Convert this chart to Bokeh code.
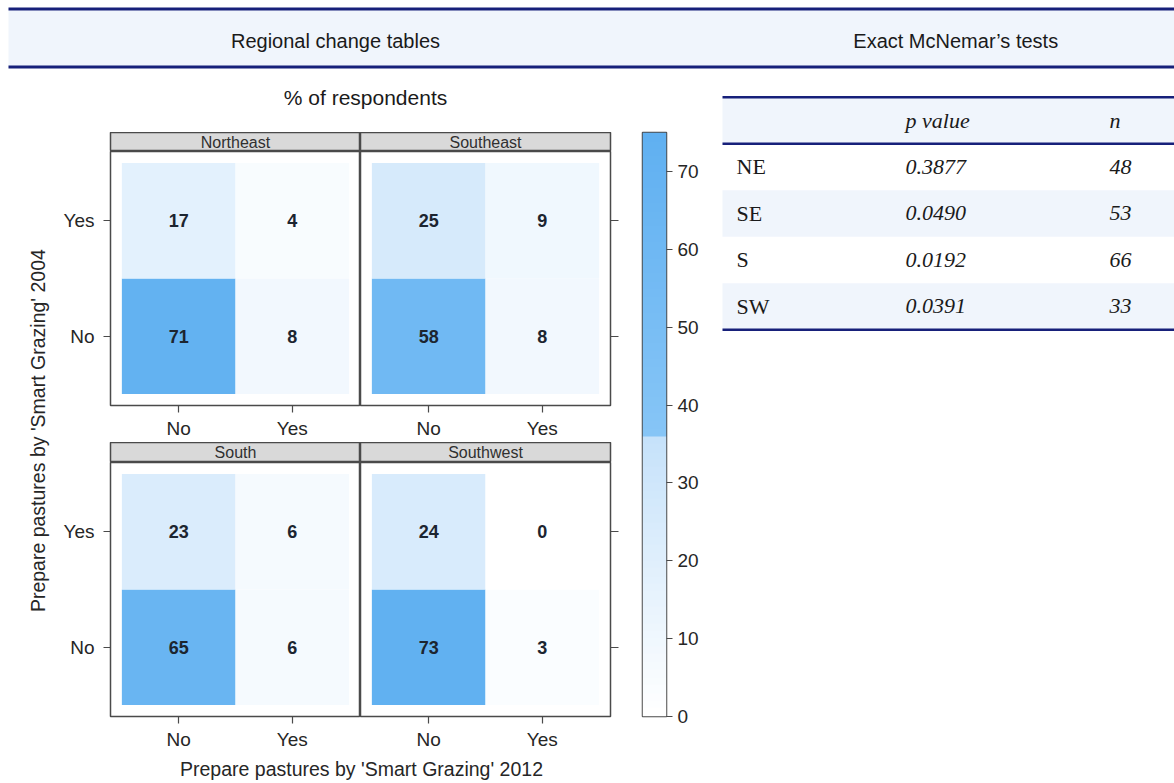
import numpy as np
from bokeh.plotting import figure
from bokeh.models import Range1d, FactorRange, FixedTicker, LinearColorMapper, ColumnDataSource
from bokeh.layouts import row, column
from bokeh.embed import file_html
from bokeh.resources import INLINE
from bokeh.core.properties import value

# ---------------- data ----------------
regions = ["Northeast", "Southeast", "South", "Southwest"]
region_codes = ["NE", "SE", "S", "SW"]
answers = ["No", "Yes"]                 # 2012 answer (x) and 2004 answer (y)
pct_2004no_2012no = [71, 58, 65, 73]
pct_2004no_2012yes = [8, 8, 6, 3]
pct_2004yes_2012no = [17, 25, 23, 24]
pct_2004yes_2012yes = [4, 9, 6, 0]
p_values = ["0.3877", "0.0490", "0.0192", "0.0391"]
n_values = ["48", "53", "66", "33"]
colorbar_ticks = [0, 10, 20, 30, 40, 50, 60, 70]
colorbar_max = 75

# ---------------- styles ----------------
SANS = "Liberation Sans"
SERIF = "Liberation Serif"
NAVY = "#17207a"
BAND = "#f0f5fc"
FRAME = "#4a4a4a"
TXT = "#262626"


def ramp(c0, c1, n):
    a = np.array([int(c0[i:i + 2], 16) for i in (1, 3, 5)], float)
    b = np.array([int(c1[i:i + 2], 16) for i in (1, 3, 5)], float)
    out = []
    for t in np.linspace(0, 1, n):
        c = np.round(a + (b - a) * t).astype(int)
        out.append("#%02x%02x%02x" % tuple(c))
    return out


palette = ramp("#ffffff", "#c6e2fa", 36) + ramp("#86c5f6", "#60b0f1", 39)
mapper = LinearColorMapper(palette=palette, low=0, high=colorbar_max)


def base_fig(**kw):
    f = figure(output_backend="svg", toolbar_location=None, **kw)
    f.grid.visible = False
    return f


def pixel_fig(w, h, **kw):
    return base_fig(width=w, height=h, x_range=Range1d(0, w), y_range=Range1d(h, 0),
                    min_border_left=0, min_border_right=0, min_border_top=0, min_border_bottom=0,
                    x_axis_location=None, y_axis_location=None, outline_line_color=None, **kw)


# ---------------- header ----------------
W = 1174
header = pixel_fig(W, 70)
header.quad(left=[8], right=[W], top=[8], bottom=[67], fill_color=BAND, line_color=None)
header.segment(x0=[8, 8], x1=[W, W], y0=[8.5, 66.5], y1=[8.5, 66.5], line_color=NAVY, line_width=3)
header.text(x=[335, 958], y=[40, 40], text=["Regional change tables", "Exact McNemar\u2019s  tests"],
            text_align="center", text_baseline="middle", text_font=value(SANS),
            text_font_size="20px", text_color="#1a1a1a")

BODY_H = 713

# ---------------- left: y title ----------------
ylab = pixel_fig(50, BODY_H)
ylab.text(x=[37], y=[364], text=["Prepare pastures by 'Smart Grazing' 2004"], angle=np.pi / 2,
          text_align="center", text_baseline="middle", text_font=value(SANS),
          text_font_size="19.5px", text_color=TXT)

# ---------------- titles ----------------
ttl = pixel_fig(578, 62)
ttl.text(x=[315], y=[27], text=["% of respondents"], text_align="center", text_baseline="middle",
         text_font=value(SANS), text_font_size="21px", text_color="#1a1a1a")

xttl = pixel_fig(578, 30)
xttl.text(x=[311], y=[15], text=["Prepare pastures by 'Smart Grazing' 2012"], text_align="center",
          text_baseline="middle", text_font=value(SANS), text_font_size="19.5px", text_color=TXT)


def strip(name, width, left, right, height):
    s = base_fig(width=width, height=height, x_range=Range1d(0, 1), y_range=Range1d(0, 1),
                 min_border_left=left, min_border_right=right, min_border_top=0, min_border_bottom=0,
                 x_axis_location=None, y_axis_location=None,
                 background_fill_color="#d9d9d9", outline_line_color=FRAME, outline_line_width=1.5)
    s.text(x=[0.5], y=[0.5], text=[name], text_align="center", text_baseline="middle",
           text_font=value(SANS), text_font_size="16px", text_color="#303030")
    return s


def style_axis(ax):
    ax.axis_line_color = None
    ax.major_tick_line_color = FRAME
    ax.major_tick_line_width = 1.2
    ax.major_tick_in = 0
    ax.minor_tick_line_color = None
    ax.major_label_text_font = SANS
    ax.major_label_text_font_size = "19px"
    ax.major_label_text_color = TXT


def panel(i, side, width, left, right, height, bottom):
    p = base_fig(width=width, height=height,
                 x_range=FactorRange(factors=answers, range_padding=0.1, range_padding_units="absolute"),
                 y_range=FactorRange(factors=answers, range_padding=0.1, range_padding_units="absolute"),
                 min_border_left=left, min_border_right=right, min_border_top=0, min_border_bottom=bottom,
                 x_axis_location="below", y_axis_location=side,
                 outline_line_color=FRAME, outline_line_width=1.5)
    xs = ["No", "Yes", "No", "Yes"]
    ys = ["No", "No", "Yes", "Yes"]
    vals = [pct_2004no_2012no[i], pct_2004no_2012yes[i], pct_2004yes_2012no[i], pct_2004yes_2012yes[i]]
    src = ColumnDataSource(dict(x=xs, y=ys, v=vals, label=[str(v) for v in vals]))
    p.rect(x="x", y="y", width=1, height=1, source=src,
           fill_color={"field": "v", "transform": mapper}, line_color=None)
    p.text(x="x", y="y", text="label", source=src, text_align="center", text_baseline="middle",
           text_font=value(SANS), text_font_size="18px", text_font_style="bold", text_color="#1c2530")
    for ax in p.axis:
        style_axis(ax)
    p.xaxis.major_tick_out = 7
    p.xaxis.major_label_standoff = 5
    if side == "left":
        p.yaxis.major_tick_out = 7
        p.yaxis.major_label_standoff = 9
    else:
        # lattice style: tick marks only on the right-hand side, no labels drawn
        p.yaxis.major_tick_out = 8
        p.yaxis.major_label_standoff = 0
        p.yaxis.major_label_text_font_size = "2px"
        p.yaxis.major_label_text_color = None
    return p


s_ne = strip(regions[0], 310, 60, 0, 19)
s_se = strip(regions[1], 268, 0, 18, 19)
p_ne = panel(0, "left", 310, 60, 0, 291, 37)
p_se = panel(1, "right", 268, 0, 18, 291, 37)
s_s = strip(regions[2], 310, 60, 0, 20)
s_sw = strip(regions[3], 268, 0, 18, 20)
p_s = panel(2, "left", 310, 60, 0, 291, 37)
p_sw = panel(3, "right", 268, 0, 18, 291, 37)

center = column(ttl, row(s_ne, s_se), row(p_ne, p_se), row(s_s, s_sw), row(p_s, p_sw), xttl)

# ---------------- colour bar ----------------
cb = base_fig(width=80, height=BODY_H, x_range=Range1d(0, 1), y_range=Range1d(0, colorbar_max),
              min_border_left=14, min_border_right=42, min_border_top=62, min_border_bottom=67,
              x_axis_location=None, y_axis_location="right",
              outline_line_color=FRAME, outline_line_width=1.5)
grad = np.linspace(0, colorbar_max, 400).reshape(-1, 1)
cb.image(image=[grad], x=0, y=0, dw=1, dh=colorbar_max, color_mapper=mapper)
cb.yaxis.ticker = FixedTicker(ticks=colorbar_ticks)
style_axis(cb.yaxis[0])
cb.yaxis.major_tick_out = 6
cb.yaxis.major_label_standoff = 5

left_block = row(ylab, center, cb)

# ---------------- table ----------------
tw = W - 708
tab = pixel_fig(tw, BODY_H)
top, rh, x0 = 26.7, 46.5, 14
band_rows = [0, 2, 4]
tab.quad(left=[x0] * 3, right=[tw] * 3, top=[top + r * rh for r in band_rows],
         bottom=[top + (r + 1) * rh for r in band_rows], fill_color=BAND, line_color=None)
tab.segment(x0=[x0] * 3, x1=[tw] * 3, y0=[top, top + rh, top + 5 * rh], y1=[top, top + rh, top + 5 * rh],
            line_color=NAVY, line_width=2.5)
tab.text(x=[197, 401], y=[top + rh / 2] * 2, text=["p value", "n"], text_baseline="middle",
         text_font=value(SERIF), text_font_size="22px", text_font_style="italic", text_color="#1a1a1a")
row_y = [top + (k + 1.5) * rh for k in range(len(region_codes))]
tab.text(x=[28] * 4, y=row_y, text=region_codes, text_baseline="middle",
         text_font=value(SERIF), text_font_size="22px", text_color="#1a1a1a")
tab.text(x=[197] * 4, y=row_y, text=p_values, text_baseline="middle",
         text_font=value(SERIF), text_font_size="22px", text_font_style="italic", text_color="#1a1a1a")
tab.text(x=[401] * 4, y=row_y, text=n_values, text_baseline="middle",
         text_font=value(SERIF), text_font_size="22px", text_font_style="italic", text_color="#1a1a1a")

page = column(header, row(left_block, tab))

open("out.html", "w").write(file_html(page, INLINE))
